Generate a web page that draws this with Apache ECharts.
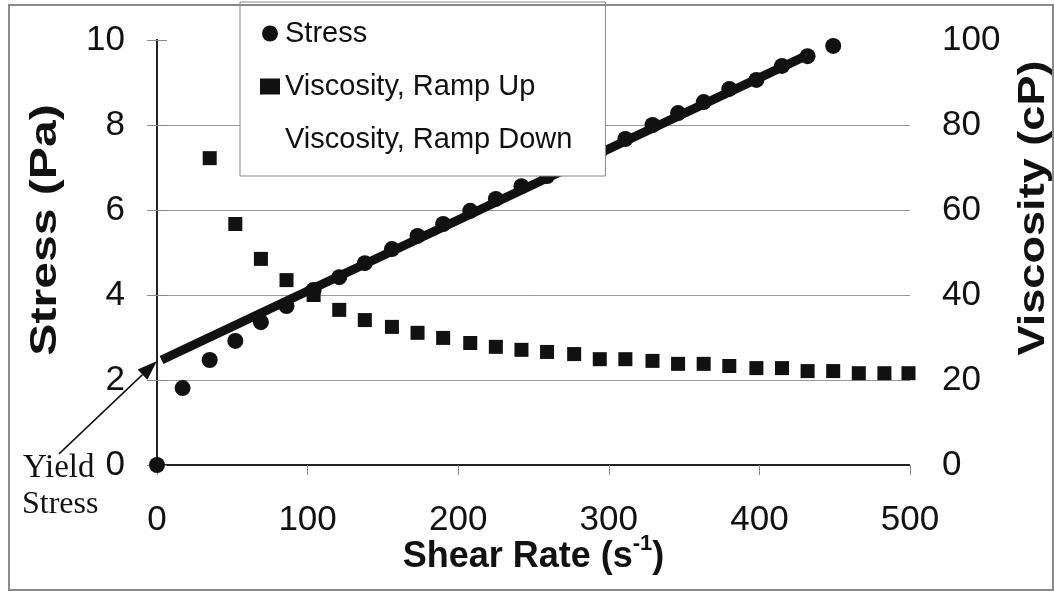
<!DOCTYPE html>
<html>
<head>
<meta charset="utf-8">
<script src="https://cdn.jsdelivr.net/npm/echarts@6/dist/echarts.min.js"></script>
<style>
  html, body { margin: 0; padding: 0; background: #fff; }
  #chart { width: 1054px; height: 592px; }
</style>
</head>
<body>
<div id="chart"></div>
<script>
// Shear-rate sweep: stress (left axis, Pa) and viscosity (right axis, cP)
const shearRateStress = [0, 17, 35, 52, 69, 86, 104, 121, 138, 156, 173, 190, 208, 225, 242, 259, 277, 294, 311, 329, 346, 363, 380, 398, 415, 432, 449];
const stressPa = [0, 1.81, 2.47, 2.92, 3.36, 3.74, 4.12, 4.42, 4.75, 5.08, 5.39, 5.67, 5.98, 6.26, 6.56, 6.8, 7.1, 7.38, 7.67, 8.0, 8.28, 8.54, 8.85, 9.06, 9.39, 9.62, 9.86];

const shearRateVisc = [35, 52, 69, 86, 104, 121, 138, 156, 173, 190, 208, 225, 242, 259, 277, 294, 311, 329, 346, 363, 380, 398, 415, 432, 449, 466, 483, 499];
const viscosityUpCP = [72.2, 56.7, 48.5, 43.5, 40, 36.5, 34.1, 32.5, 31.1, 29.9, 28.7, 27.8, 27.1, 26.6, 26.1, 24.9, 24.9, 24.5, 23.8, 23.8, 23.3, 22.8, 22.8, 22.1, 22.1, 21.6, 21.6, 21.6];
const viscosityDownCP = [];

// Bingham fit through the stress points, and its intercept (yield stress)
const fitRate = [3, 434];
const fitStress = [2.47, 9.68];
const yieldStressPa = 2.45;

const seriesNames = ['Stress', 'Viscosity, Ramp Up', 'Viscosity, Ramp Down'];

const FONT = '"Liberation Sans", Arial, Helvetica, sans-serif';
const SERIF = '"Liberation Serif", "Times New Roman", serif';
const INK = '#111';
const dottedAxis = { show: true, lineStyle: { color: '#222', width: 2, type: [2, 1] } };
const outerTick = { show: true, inside: false, length: 10, lineStyle: { color: '#888', width: 1 } };

const zip = (xs, ys) => xs.map((x, i) => [x, ys[i]]);

const chart = echarts.init(document.getElementById('chart'), null, { renderer: 'canvas' });

const option = {
  backgroundColor: '#fff',
  animation: false,
  textStyle: { fontFamily: FONT, color: INK },
  grid: { left: 157, top: 40, width: 753, height: 425, containLabel: false, outerBoundsMode: 'none' },
  legend: {
    data: [
      { name: seriesNames[0], icon: 'circle' },
      { name: seriesNames[1], icon: 'rect' },
      { name: seriesNames[2], icon: 'rect' }
    ],
    orient: 'vertical',
    left: 240,
    top: 2,
    padding: [17, 33, 22, 20],
    itemGap: 24,
    itemWidth: 20,
    itemHeight: 16,
    backgroundColor: '#fff',
    borderColor: '#888',
    borderWidth: 1,
    borderRadius: 0,
    selectedMode: false,
    textStyle: { fontFamily: FONT, fontSize: 29, color: INK },
    z: 10
  },
  xAxis: [
    {
      type: 'value', min: 0, max: 500, interval: 100, position: 'bottom',
      axisLine: dottedAxis,
      axisTick: outerTick,
      axisLabel: { fontFamily: FONT, fontSize: 35, color: INK, margin: 38 },
      splitLine: { show: false },
      name: 'Shear Rate (s{sup|-1})',
      nameLocation: 'middle',
      nameGap: 68,
      nameMoveOverlap: false,
      nameTextStyle: {
        fontFamily: FONT, fontSize: 36, fontWeight: 'bold', color: INK, lineHeight: 48,
        rich: { sup: { fontFamily: FONT, fontSize: 22, fontWeight: 'bold', color: INK, verticalAlign: 'top', lineHeight: 20 } }
      }
    },
    {
      type: 'value', min: 0, max: 500, interval: 100, position: 'top',
      axisLine: dottedAxis,
      axisTick: { show: false }, axisLabel: { show: false }, splitLine: { show: false }
    }
  ],
  yAxis: [
    {
      type: 'value', min: 0, max: 10, interval: 2, position: 'left',
      axisLine: dottedAxis,
      axisTick: outerTick,
      axisLabel: { fontFamily: FONT, fontSize: 35, color: INK, margin: 32 },
      splitLine: { show: true, showMinLine: false, showMaxLine: false, lineStyle: { color: '#999', width: 1 } }
    },
    {
      type: 'value', min: 0, max: 100, interval: 20, position: 'right',
      axisLine: dottedAxis,
      axisTick: outerTick,
      axisLabel: { fontFamily: FONT, fontSize: 35, color: INK, margin: 32 },
      splitLine: { show: false }
    }
  ],
  series: [
    {
      name: seriesNames[1], type: 'scatter', xAxisIndex: 0, yAxisIndex: 1,
      symbol: 'rect', symbolSize: 14,
      itemStyle: { color: INK, opacity: 1 },
      data: zip(shearRateVisc, viscosityUpCP), z: 3
    },
    {
      name: seriesNames[2], type: 'scatter', xAxisIndex: 0, yAxisIndex: 1,
      symbol: 'rect', symbolSize: 14,
      itemStyle: { color: 'rgba(0,0,0,0)', opacity: 1 },
      data: viscosityDownCP, z: 3
    },
    {
      name: seriesNames[0], type: 'scatter', xAxisIndex: 0, yAxisIndex: 0,
      symbol: 'circle', symbolSize: 16,
      itemStyle: { color: INK, opacity: 1 },
      data: zip(shearRateStress, stressPa), z: 4
    },
    {
      name: 'Bingham fit', type: 'line', xAxisIndex: 0, yAxisIndex: 0,
      showSymbol: false, symbol: 'none', silent: true,
      lineStyle: { color: INK, width: 9, cap: 'butt' },
      data: zip(fitRate, fitStress), z: 5
    }
  ],
  graphic: [
    {
      id: 'frame', type: 'rect', silent: true, z: 100,
      shape: { x: 9, y: 5, width: 1044, height: 585 },
      style: { fill: 'none', stroke: '#8a8a8a', lineWidth: 2 }
    },
    {
      id: 'yTitleLeft', type: 'text', x: 46, y: 230, rotation: Math.PI / 2, scaleX: 1.3,
      style: { text: 'Stress (Pa)', font: 'bold 37px ' + FONT, fill: INK, align: 'center', verticalAlign: 'middle' }
    },
    {
      id: 'yTitleRight', type: 'text', x: 1034, y: 208, rotation: Math.PI / 2, scaleX: 1.22,
      style: { text: 'Viscosity (cP)', font: 'bold 37px ' + FONT, fill: INK, align: 'center', verticalAlign: 'middle' }
    },
    {
      id: 'yieldWord1', type: 'text', x: 23, y: 468,
      style: { text: 'Yield', font: '33px ' + SERIF, fill: INK, align: 'left', verticalAlign: 'middle' }
    },
    {
      id: 'yieldWord2', type: 'text', x: 22, y: 505,
      style: { text: 'Stress', font: '32px ' + SERIF, fill: INK, align: 'left', verticalAlign: 'middle' }
    }
  ]
};

chart.setOption(option);

// Arrow from the "Yield Stress" note to the fit's intercept on the stress axis
const tip = chart.convertToPixel({ xAxisIndex: 0, yAxisIndex: 0 }, [0, yieldStressPa]);
const tail = [tip[0] - 98, tip[1] + 93];
const dx = tip[0] - tail[0], dy = tip[1] - tail[1];
const len = Math.sqrt(dx * dx + dy * dy);
const ux = dx / len, uy = dy / len;
const headLen = 20, headHalf = 7;
const base = [tip[0] - ux * headLen, tip[1] - uy * headLen];
chart.setOption({
  graphic: [
    {
      id: 'arrowShaft', type: 'line', silent: true, z: 50,
      shape: { x1: tail[0], y1: tail[1], x2: base[0], y2: base[1] },
      style: { stroke: INK, lineWidth: 1.5 }
    },
    {
      id: 'arrowHead', type: 'polygon', silent: true, z: 50,
      shape: { points: [
        [tip[0], tip[1]],
        [base[0] - uy * headHalf, base[1] + ux * headHalf],
        [base[0] + uy * headHalf, base[1] - ux * headHalf]
      ] },
      style: { fill: INK }
    }
  ]
});
</script>
</body>
</html>
